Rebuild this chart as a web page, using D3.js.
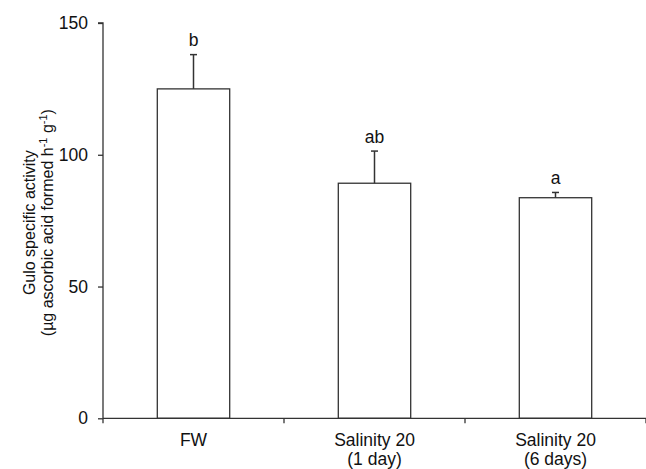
<!DOCTYPE html>
<html><head><meta charset="utf-8">
<script src="https://cdn.jsdelivr.net/npm/d3@7"></script>
<style>body{margin:0;background:#fff}svg{display:block}text{font-family:"Liberation Sans",Arial,sans-serif;fill:#111}</style>
</head><body>
<script>
const categories = ["FW", "Salinity 20|(1 day)", "Salinity 20|(6 days)"];
const means = [125, 89.2, 83.7];
const errors = [13, 12.2, 2];
const letters = ["b", "ab", "a"];
const yTicks = [0, 50, 100, 150];

const W = 646, H = 469;
const m = {left: 103, right: 0, top: 23, bottom: 51};
const svg = d3.select("body").append("svg").attr("width", W).attr("height", H);

const x = d3.scaleBand().domain(categories).range([m.left, m.left + 181*3]).paddingInner(0.6).paddingOuter(0.3);
const y = d3.scaleLinear().domain([0, 150]).range([H - m.bottom + 0.3, m.top]);

const stroke = "#333";
const fs = 17.5;

// bars
svg.append("g").selectAll("rect").data(categories).join("rect")
  .attr("x", d => x(d)).attr("width", x.bandwidth())
  .attr("y", (d,i) => y(means[i])).attr("height", (d,i) => y(0) - y(means[i]))
  .attr("fill", "#fff").attr("stroke", stroke).attr("stroke-width", 1.3);

// error bars
const eb = svg.append("g").attr("stroke", stroke).attr("stroke-width", 1.5);
categories.forEach((c,i) => {
  const cx = x(c) + x.bandwidth()/2;
  eb.append("line").attr("x1", cx).attr("x2", cx).attr("y1", y(means[i])).attr("y2", y(means[i]+errors[i]));
  eb.append("line").attr("x1", cx-3.5).attr("x2", cx+3.5).attr("y1", y(means[i]+errors[i])).attr("y2", y(means[i]+errors[i]));
  svg.append("text").attr("x", cx).attr("y", y(means[i]+errors[i]) - 8.5)
    .attr("text-anchor", "middle").attr("font-size", fs).text(letters[i]);
});

// y axis
const ya = svg.append("g").attr("transform", `translate(${m.left},0)`)
  .call(d3.axisLeft(y).tickValues(yTicks).tickSize(5).tickPadding(10));
ya.selectAll("path,line").attr("stroke", stroke).attr("stroke-width", 1.3);
ya.select(".domain").attr("d", `M-5,${y(150)}H0V${y(0)}`);
ya.selectAll("text").attr("font-size", fs).attr("font-family", '"Liberation Sans",Arial,sans-serif').attr("fill", "#111");

// x axis
const xa = svg.append("g").attr("transform", `translate(0,${y(0)})`);
xa.append("line").attr("x1", m.left).attr("x2", W).attr("y1", 0).attr("y2", 0).attr("stroke", stroke).attr("stroke-width", 1.3);
[0,1,2,3].forEach(k => {
  const tx = m.left + k*181;
  xa.append("line").attr("x1", tx).attr("x2", tx).attr("y1", 0).attr("y2", 5).attr("stroke", stroke).attr("stroke-width", 1.3);
});
categories.forEach(c => {
  const cx = x(c) + x.bandwidth()/2;
  const lines = c.split("|");
  const t = xa.append("text").attr("text-anchor", "middle").attr("font-size", fs);
  lines.forEach((l, j) => t.append("tspan").attr("x", cx).attr("y", 28 + j*19).text(l));
});

// y label
const yl = svg.append("text").attr("transform", `translate(0,${(y(0)+y(150))/2 + 2}) rotate(-90)`)
  .attr("text-anchor", "middle").attr("font-size", 16);
yl.append("tspan").attr("x", 0).attr("y", 35).text("Gulo specific activity");
const l2 = yl.append("tspan").attr("x", 0).attr("y", 53);
l2.append("tspan").text("(µg ascorbic acid formed  h");
l2.append("tspan").attr("font-size", 11).attr("dy", -6).text("-1");
l2.append("tspan").attr("dy", 6).text(" g");
l2.append("tspan").attr("font-size", 11).attr("dy", -6).text("-1");
l2.append("tspan").attr("dy", 6).text(")");
</script>
</body></html>
